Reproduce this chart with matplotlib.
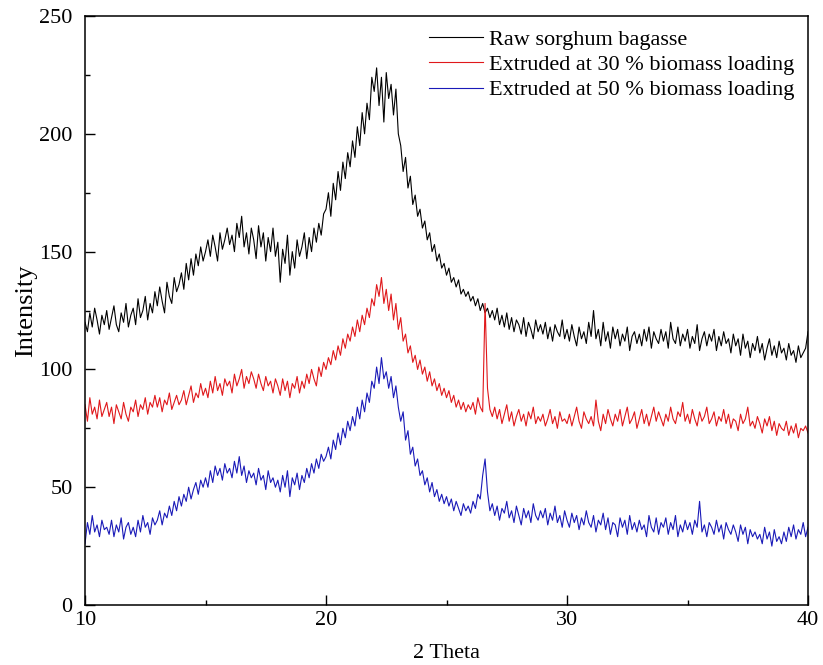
import numpy as np
import matplotlib
matplotlib.use('Agg')
import matplotlib.pyplot as plt
from matplotlib.ticker import MultipleLocator

plt.rcParams['font.family'] = ['Liberation Serif', 'DejaVu Serif']

# 2 theta sampled every 0.1 degree from 10 to 40
two_theta = np.round(np.arange(10, 40.001, 0.1), 1)

# raw sorghum bagasse (one row per degree)
raw = [
    120, 116, 124, 118, 126, 121, 115, 123, 119, 125,
    117, 122, 127, 119, 116, 124, 120, 128, 118, 123,
    126, 119, 130, 122, 125, 131, 121, 128, 124, 133,
    127, 135, 129, 124, 137, 131, 128, 139, 133, 136,
    141, 134, 145, 138, 147, 140, 149, 144, 152, 146,
    150, 155, 148, 157, 152, 146, 158, 151, 155, 160,
    153, 157, 150, 162, 156, 165, 152, 158, 149, 160,
    155, 147, 161, 152, 158, 146, 156, 150, 160, 148,
    154, 137, 151, 145, 157, 140, 150, 143, 155, 148,
    152, 158, 147, 156, 150, 160, 154, 162, 157, 166,
    168, 175, 165, 179, 172, 184, 176, 188, 181, 192,
    186, 197, 190, 203, 195, 209, 200, 213, 206, 224,
    218, 228, 212, 224, 205, 226, 215, 221, 208, 219,
    200, 195, 184, 190, 177, 182, 170, 174, 165, 168,
    160, 163, 155, 158, 150, 153, 146, 149, 143, 145,
    140, 143, 137, 139, 135, 138, 132, 134, 131, 133,
    129, 131, 127, 130, 125, 128, 124, 126, 122, 125,
    121, 126, 119, 123, 118, 124, 117, 122, 116, 121,
    119, 115, 122, 114, 120, 117, 113, 121, 116, 119,
    115, 120, 113, 118, 112, 119, 116, 114, 121, 113,
    117, 112, 119, 114, 110, 118, 113, 116, 111, 120,
    114, 125, 113, 117, 110, 120, 112, 116, 109, 118,
    113, 117, 110, 115, 112, 118, 108, 114, 116, 111,
    115, 110, 117, 112, 118, 109, 116, 113, 111, 117,
    112, 116, 109, 120, 113, 111, 118, 110, 115, 112,
    117, 109, 114, 111, 119, 108, 113, 116, 110, 115,
    112, 117, 108, 114, 110, 116, 111, 113, 107, 115,
    110, 113, 106, 115, 109, 112, 105, 111, 108, 114,
    107, 111, 104, 109, 113, 106, 110, 105, 112, 107,
    109, 104, 111, 106, 108, 103, 110, 105, 107, 109,
    116,
]

# extruded at 30 % biomass loading
ext30 = [
    85, 78, 88, 81, 84, 79, 87, 80, 83, 86,
    80, 84, 77, 85, 82, 79, 86, 81, 78, 84,
    82, 87, 80, 85, 83, 88, 81, 86, 84, 89,
    84, 88, 82, 87, 85, 90, 83, 86, 89, 85,
    87, 91, 85, 89, 93, 86, 90, 88, 94, 89,
    92, 88, 95, 90, 97, 91, 94, 89, 96, 93,
    95, 90, 98, 93, 96, 100, 92, 97, 94, 99,
    96, 92, 98, 94, 91, 97, 93, 95, 90, 96,
    93, 89, 96, 91, 95, 88, 94, 92, 97, 90,
    95, 92, 98, 94, 100, 96, 93, 101, 97, 103,
    100, 105, 102, 108, 104, 110, 106, 113, 109, 115,
    112, 118, 114, 121, 116, 123, 119, 126, 122, 130,
    127, 136, 131, 139, 128, 134, 125, 132, 121, 128,
    117, 122, 112, 115, 107, 110, 103, 106, 100, 104,
    98, 101, 95, 99, 93, 96, 91, 94, 89, 92,
    88, 91, 86, 89, 84, 87, 83, 86, 82, 85,
    83, 86, 81, 88, 84, 82, 128, 92, 83, 80,
    84, 79, 83, 77, 81, 85, 78, 82, 76, 80,
    83, 78, 81, 76, 82, 79, 84, 77, 80, 78,
    81, 76, 79, 83, 77, 80, 75, 82, 78, 79,
    77, 81, 76, 80, 84, 78, 75, 82, 79, 77,
    80, 76, 87, 78, 74, 81, 77, 83, 79, 76,
    81, 78, 83, 76, 80, 84, 77, 79, 82, 75,
    79, 83, 77, 81, 76, 80, 84, 78, 82, 79,
    76, 81, 78, 84, 79, 77, 82, 80, 86, 78,
    81, 77, 83, 79, 76, 82, 78, 80, 84, 77,
    79, 82, 76, 80, 78, 83, 77, 81, 75, 79,
    78, 74, 81, 77, 79, 84, 76, 78, 75, 80,
    77, 73, 79, 76, 80, 74, 78, 72, 77, 75,
    74, 78, 72, 76, 73, 77, 71, 75, 74, 76,
    73,
]

# extruded at 50 % biomass loading
ext50 = [
    26, 35, 30, 38, 31, 34, 29, 36, 32, 33,
    30, 36, 29, 34, 31, 37, 28, 33, 35, 30,
    33, 29, 36, 31, 38, 33, 35, 30, 37, 34,
    36, 40, 34, 39, 37, 42, 38, 44, 40, 46,
    42, 47, 44, 50, 45, 49, 52, 47, 53, 50,
    54, 50, 57, 52, 59, 55, 58, 53, 60, 56,
    58, 54, 61, 56, 63, 55, 59, 52, 57, 54,
    56, 51, 58, 53, 55, 49, 57, 52, 54, 50,
    53, 48, 55, 50, 57, 46, 54, 51, 56, 49,
    55, 52, 58, 54, 60, 56, 62, 58, 64, 61,
    63, 67, 62, 70, 66, 73, 68, 75, 71, 78,
    74, 80, 76, 84, 79, 87, 82, 90, 86, 95,
    92, 101, 94, 105, 96, 99, 92, 97, 88, 93,
    84, 78, 82, 70, 74, 64, 67, 59, 62, 55,
    57, 51, 54, 48, 52, 46, 49, 44, 47, 43,
    46, 42, 45, 40, 44, 41, 38, 43, 40, 42,
    39, 44, 41, 47, 45, 55, 62, 48, 40, 43,
    38, 42, 36, 41, 39, 44, 37, 40, 35, 42,
    38, 34, 41, 37, 40, 35, 43, 38, 36, 40,
    37, 41, 34, 39, 36, 42, 35, 38, 33, 40,
    36, 33, 39, 35, 38, 32, 37, 34, 40, 35,
    33, 38, 31, 36, 34, 39, 32, 37, 30, 35,
    34, 29, 37, 33, 36, 30, 38, 32, 35, 31,
    36, 32, 34, 29, 38, 33, 31, 37, 30, 35,
    33, 37, 30, 35, 32, 38, 29, 34, 31, 36,
    32, 35, 30, 36, 33, 44, 31, 34, 29, 35,
    33, 30, 36, 31, 34, 28, 35, 32, 30, 34,
    31, 27, 34, 30, 33, 26, 32, 29, 31, 28,
    30, 26, 33, 28, 31, 25, 32, 27, 29, 26,
    31, 27, 33, 29, 34, 28, 32, 30, 35, 29,
    33,
]

labels = ['Raw sorghum bagasse',
          'Extruded at 30 % biomass loading',
          'Extruded at 50 % biomass loading']
colors = ['black', '#e0181b', '#1a1ab8']

fig = plt.figure(figsize=(8.23, 6.65), dpi=100)
ax = fig.add_axes([0.1033, 0.0902, 0.8785, 0.8857])

for series, lab, col in zip([raw, ext30, ext50], labels, colors):
    ax.plot(two_theta, series, color=col, lw=0.8, label=lab)

ax.set_xlim(10, 40)
ax.set_ylim(0, 250)
ax.xaxis.set_major_locator(MultipleLocator(10))
ax.xaxis.set_minor_locator(MultipleLocator(5))
ax.yaxis.set_major_locator(MultipleLocator(50))
ax.yaxis.set_minor_locator(MultipleLocator(25))
ax.tick_params(which='both', direction='in', top=False, right=False,
               labelsize=16, width=1.0)
ax.tick_params(which='major', length=7)
ax.tick_params(which='minor', length=3.5)
ax.tick_params(axis='x', pad=4)
ax.tick_params(axis='y', pad=9)
for sp in ax.spines.values():
    sp.set_linewidth(1.1)

ax.set_xlabel('2 Theta', fontsize=16)
ax.xaxis.set_label_coords(0.5, -0.066)
ax.set_ylabel('Intensity', fontsize=19)
ax.yaxis.set_label_coords(-0.066, 0.5)

ax.legend(loc='upper right', frameon=False, fontsize=16, handlelength=2.4,
          handletextpad=0.3, labelspacing=0.21, borderaxespad=0.2)

fig.savefig('out.png', dpi=100)
